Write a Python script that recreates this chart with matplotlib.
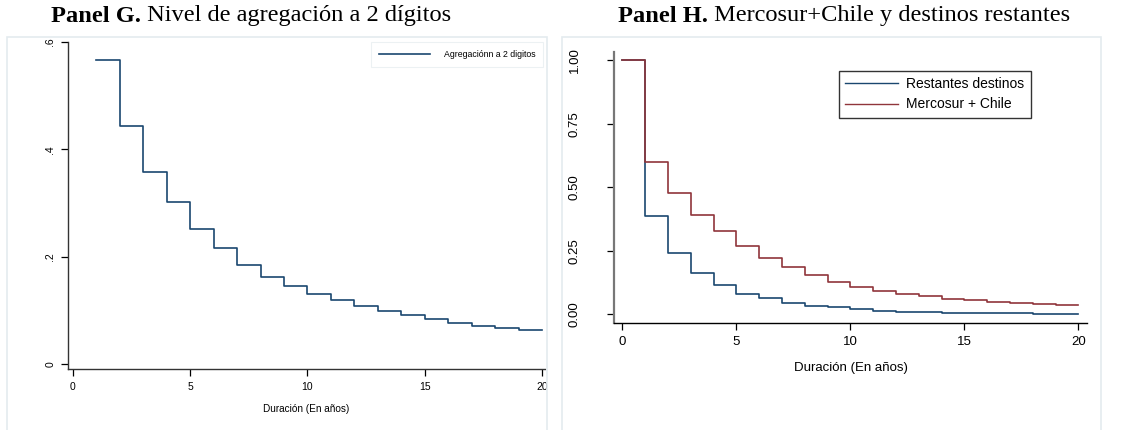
import matplotlib.pyplot as plt
from matplotlib.patches import Rectangle

W, H = 1121, 430

# Panel G: survival estimate, 2-digit aggregation
g_years = [1, 2, 3, 4, 5, 6, 7, 8, 9, 10, 11, 12, 13, 14, 15, 16, 17, 18, 19, 20]
g_surv = [0.566, 0.443, 0.358, 0.301, 0.252, 0.216, 0.185, 0.162, 0.145, 0.131,
          0.119, 0.108, 0.099, 0.091, 0.084, 0.077, 0.071, 0.067, 0.064, 0.064]

# Panel H: Mercosur+Chile vs remaining destinations
h_years = [0, 1, 2, 3, 4, 5, 6, 7, 8, 9, 10, 11, 12, 13, 14, 15, 16, 17, 18, 19, 20]
h_rest = [1.0, 0.387, 0.242, 0.164, 0.114, 0.081, 0.063, 0.046, 0.034, 0.028, 0.020,
          0.014, 0.011, 0.009, 0.007, 0.006, 0.005, 0.004, 0.003, 0.003, 0.003]
h_merc = [1.0, 0.600, 0.478, 0.390, 0.326, 0.269, 0.223, 0.186, 0.155, 0.128, 0.109,
          0.093, 0.081, 0.071, 0.061, 0.055, 0.050, 0.044, 0.041, 0.035, 0.035]

NAVY = "#1a476f"
MAROON = "#90353b"
SANS = "Liberation Sans"
SERIF = "Liberation Serif"


def box(x0, y0, x1, y1):
    # pixel box (top-left origin) -> figure fraction rect
    return [x0 / W, 1 - y1 / H, (x1 - x0) / W, (y1 - y0) / H]


fig = plt.figure(figsize=(W / 100, H / 100), dpi=100)

# light panel frames
for x0, x1 in [(7, 547), (562, 1101)]:
    r = box(x0, 37, x1, 440)
    fig.patches.append(Rectangle((r[0], r[1]), r[2], r[3], transform=fig.transFigure,
                                 fill=False, edgecolor="#e4ebef", linewidth=1.2))

# titles: bold "Panel X." followed by regular text, centred as one string
TSIZE = 17.6
for cx, bold, rest in [(248, "Panel G.", " Nivel de agregación a 2 dígitos"),
                       (841, "Panel H.", " Mercosur+Chile y destinos restantes")]:
    t = fig.text(cx / W, 1 - 16 / H, bold + rest, fontsize=TSIZE, family=SERIF,
                 ha="center", va="center", color="white")
    fig.canvas.draw()
    bb = t.get_window_extent()
    t.remove()
    t1 = fig.text(bb.x0 / W, 1 - 16 / H, bold, fontsize=TSIZE, family=SERIF,
                  weight="bold", ha="left", va="center")
    bb1 = t1.get_window_extent(fig.canvas.get_renderer())
    fig.text(bb1.x1 / W, 1 - 16 / H, rest, fontsize=TSIZE, family=SERIF,
             ha="left", va="center")

# ---- Panel G ----
ax = fig.add_axes(box(68, 41.7, 545, 369))
ax.step(g_years, g_surv, where="post", color=NAVY, linewidth=1.2,
        label="Agregaciónn a 2 digitos")
ax.set_xlim(-0.213, 20.13)
ax.set_ylim(-0.009, 0.6)
ax.set_xticks([0, 5, 10, 15, 20])
ax.set_yticks([0, 0.2, 0.4, 0.6])
ax.set_yticklabels(["0", ".2", ".4", ".6"], rotation=90, va="center")
for s in ["top", "right"]:
    ax.spines[s].set_visible(False)
for s in ["left", "bottom"]:
    ax.spines[s].set_color("#333333")
    ax.spines[s].set_linewidth(1.0)
ax.tick_params(direction="out", length=5, width=0.9, labelsize=7.5, pad=4)
for lbl in ax.get_xticklabels() + ax.get_yticklabels():
    lbl.set_family(SANS)
ax.set_xlabel("Duración (En años)", fontsize=7.2, family=SANS, labelpad=9)
leg = ax.legend(loc="upper right", bbox_to_anchor=(543 / W, 1 - 42 / H),
                bbox_transform=fig.transFigure, prop={"family": SANS, "size": 6.3},
                frameon=True, fancybox=False, handlelength=5.9, borderpad=0.9,
                handletextpad=1.5, borderaxespad=0)
leg.get_frame().set_edgecolor("#e8eef1")
leg.get_frame().set_linewidth(0.8)

# ---- Panel H ----
ax2 = fig.add_axes(box(614, 51.7, 1087, 323.3))
ax2.step(h_years, h_rest, where="post", color=NAVY, linewidth=1.2, label="Restantes destinos")
ax2.step(h_years, h_merc, where="post", color=MAROON, linewidth=1.2, label="Mercosur + Chile")
ax2.set_xlim(-0.364, 20.38)
ax2.set_ylim(-0.035, 1.033)
ax2.set_xticks([0, 5, 10, 15, 20])
ax2.set_yticks([0, 0.25, 0.5, 0.75, 1.0])
ax2.set_yticklabels(["0.00", "0.25", "0.50", "0.75", "1.00"], rotation=90, va="center")
for s in ["top", "right"]:
    ax2.spines[s].set_visible(False)
ax2.spines["left"].set_color("#777777")
ax2.spines["left"].set_linewidth(1.6)
ax2.spines["bottom"].set_color("black")
ax2.spines["bottom"].set_linewidth(1.0)
ax2.tick_params(direction="out", length=5, width=0.9, labelsize=9.5, pad=4)
ax2.tick_params(axis="y", pad=19)
for lbl in ax2.get_xticklabels() + ax2.get_yticklabels():
    lbl.set_family(SANS)
ax2.set_xlabel("Duración (En años)", fontsize=9.5, family=SANS, labelpad=10)
leg2 = ax2.legend(loc="upper left", bbox_to_anchor=(839 / W, 1 - 71 / H),
                  bbox_transform=fig.transFigure, prop={"family": SANS, "size": 10},
                  frameon=True, fancybox=False, handlelength=3.8, borderpad=0.45,
                  handletextpad=0.6, labelspacing=0.45, borderaxespad=0)
leg2.get_frame().set_edgecolor("black")
leg2.get_frame().set_linewidth(1.0)
for line in leg2.get_lines():
    line.set_linewidth(1.0)

fig.savefig("out.png", dpi=100)
